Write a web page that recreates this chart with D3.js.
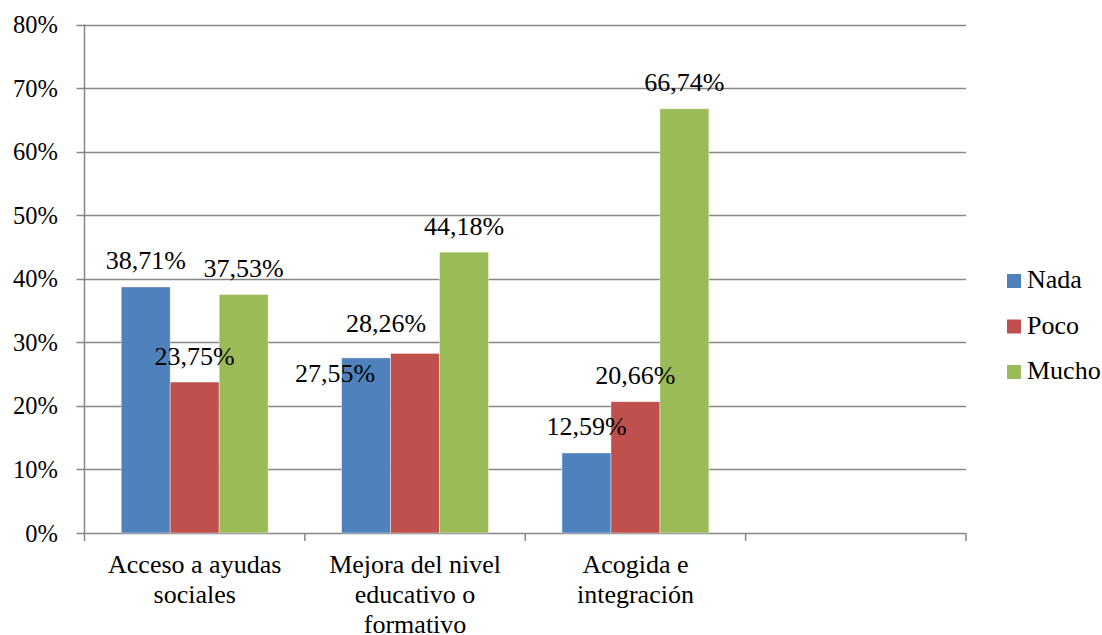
<!DOCTYPE html>
<html>
<head>
<meta charset="utf-8">
<script src="https://cdn.jsdelivr.net/npm/d3@7"></script>
<style>
  html, body { margin: 0; padding: 0; background: #fff; }
  svg text { font-family: "Liberation Serif", Tinos, "Times New Roman", serif !important; }
</style>
</head>
<body>
<svg id="fig" width="1102" height="635" font-family="Liberation Serif"></svg>
<script>
// ---- data ----
const categories = [
  ["Acceso a ayudas", "sociales"],
  ["Mejora del nivel", "educativo o", "formativo"],
  ["Acogida e", "integración"],
  []
];
const seriesNames = ["Nada", "Poco", "Mucho"];
const nada  = [0.3871, 0.2755, 0.1259];
const poco  = [0.2375, 0.2826, 0.2066];
const mucho = [0.3753, 0.4418, 0.6674];
const valueLabels = [
  ["38,71%", "27,55%", "12,59%"],
  ["23,75%", "28,26%", "20,66%"],
  ["37,53%", "44,18%", "66,74%"]
];
const yTicks = [0, 0.1, 0.2, 0.3, 0.4, 0.5, 0.6, 0.7, 0.8];
const yTickLabels = ["0%", "10%", "20%", "30%", "40%", "50%", "60%", "70%", "80%"];
const colors = ["#4F81BD", "#C0504D", "#9BBB59"];
// manual nudges of data labels (series x category), as in the original
const labelNudge = [
  [[0, 0], [-31, 42], [0, 0]],
  [[0, 0], [-29, -4], [0, 0]],
  [[0, 0], [0, 0], [0, 0]]
];

const seriesValues = [nada, poco, mucho];

// ---- layout ----
const svg = d3.select("#fig");
const plotL = 84.5, plotR = 966, plotT = 24.5, plotB = 533;
const gridColor = "#868686";

function txt(sel, size) {
  return sel.attr("font-family", "Liberation Serif")
    .style("font-family", "Liberation Serif", "important")
    .style("font-size", size + "px").attr("fill", "#000");
}

const x0 = d3.scaleBand().domain(d3.range(categories.length)).range([plotL, plotR]).padding(0);
const x1 = d3.scaleBand().domain(d3.range(seriesNames.length)).range([0, x0.bandwidth()])
  .paddingInner(0).paddingOuter(0.75);
const y = d3.scaleLinear().domain([0, 0.8]).range([plotB, plotT]);

// gridlines + y ticks
svg.append("g").selectAll("line").data(yTicks).join("line")
  .attr("x1", plotL - 8).attr("x2", plotR)
  .attr("y1", d => Math.round(y(d)) + 0.5).attr("y2", d => Math.round(y(d)) + 0.5)
  .attr("stroke", gridColor).attr("stroke-width", 1.3);

// y axis line
svg.append("line")
  .attr("x1", plotL).attr("x2", plotL).attr("y1", plotT).attr("y2", plotB + 0.5)
  .attr("stroke", gridColor).attr("stroke-width", 1.5);

// y tick labels
yTicks.forEach((d, i) => {
  txt(svg.append("text"), 24.5)
    .attr("x", 58).attr("y", y(d) + 8.5)
    .attr("text-anchor", "end")
    .text(yTickLabels[i]);
});

// x axis ticks at category boundaries
const bounds = d3.range(categories.length + 1).map(i => i < categories.length ? x0(i) : plotR);
svg.append("g").selectAll("line").data(bounds).join("line")
  .attr("x1", d => d).attr("x2", d => d)
  .attr("y1", plotB).attr("y2", plotB + 8)
  .attr("stroke", gridColor).attr("stroke-width", 1.5);

// bars
seriesValues.forEach((vals, s) => {
  svg.append("g").attr("fill", colors[s]).selectAll("rect").data(vals).join("rect")
    .attr("x", (v, c) => x0(c) + x1(s))
    .attr("width", x1.bandwidth())
    .attr("y", v => y(v))
    .attr("height", v => plotB - y(v))
    .attr("stroke", "#ffffff").attr("stroke-opacity", 0.5).attr("stroke-width", 0.8);
});

// data labels
seriesValues.forEach((vals, s) => {
  vals.forEach((v, c) => {
    txt(svg.append("text"), 26)
      .attr("x", x0(c) + x1(s) + x1.bandwidth() / 2 + labelNudge[s][c][0])
      .attr("y", y(v) - 17.5 + labelNudge[s][c][1])
      .attr("text-anchor", "middle")
      .text(valueLabels[s][c]);
  });
});

// category labels
categories.forEach((lines, c) => {
  lines.forEach((ln, k) => {
    txt(svg.append("text"), 26)
      .attr("text-anchor", "middle")
      .attr("x", x0(c) + x0.bandwidth() / 2)
      .attr("y", 573 + k * 30)
      .text(ln);
  });
});

// legend
seriesNames.forEach((name, i) => {
  const yy = 288 + i * 45.5;
  svg.append("rect").attr("x", 1007).attr("y", yy - 14).attr("width", 14).attr("height", 14)
    .attr("fill", colors[i]);
  txt(svg.append("text"), 26).attr("x", 1027).attr("y", yy).text(name);
});
</script>
</body>
</html>
